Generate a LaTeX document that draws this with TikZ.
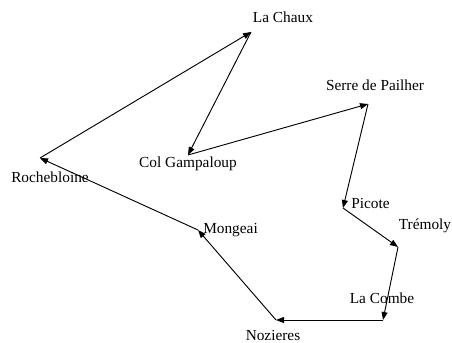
\documentclass[tikz,border=0pt]{standalone}
\usepackage{fontspec}
\setmainfont{Liberation Serif}
\usetikzlibrary{positioning,arrows.meta}

\begin{document}
\begin{tikzpicture}[x=0.75pt,y=-0.75pt,town/.style={inner sep=0pt,font=\fontsize{11.5}{13}\selectfont},leg/.style={line width=0.7pt,-{Triangle[length=6pt,width=4.5pt]}}]
		\useasboundingbox (0,0) rectangle (452,342);

		\coordinate											(rochebloine)	at (40,158);
		\coordinate											(lachaux)		at (251,32);
		\coordinate											(colgampaloup)	at (188,155);
		\coordinate											(serre)			at (368,104);
		\coordinate											(picote)		at (343,208);
		\coordinate											(tremoly)		at (398,247);
		\coordinate											(lacombe)		at (383,320);
		\coordinate											(nozieres)		at (276,320);
		\coordinate											(mongeai)		at (198,230);

		\node[town]											(rochebloinel)	at (50,177)		{Rochebloine};
		\node[town]											(lachauxl)		at (283,17)		{La Chaux};
		\node[town]											(colgampaloupl)	at (188,164)	{Col Gampaloup};
		\node[town]											(serrel)		at (375,85)		{Serre de Pailher};
		\node[town,anchor=west]								(picotel)		at (351,203)	{Picote};
		\node[town]											(tremolyl)		at (425,226)	{Tr\'emoly};
		\node[town]											(lacombel)		at (382,298)	{La Combe};
		\node[town]											(nozieresl)		at (273,335)	{Nozieres};
		\node[town,anchor=west]								(mongeail)		at (203,230)	{Mongeai};

		\draw[leg] (rochebloine) -- (lachaux);
		\draw[leg] (lachaux) -- (colgampaloup);
		\draw[leg] (colgampaloup) -- (serre);
		\draw[leg] (serre) -- (picote);
		\draw[leg] (picote) -- (tremoly);
		\draw[leg] (tremoly) -- (lacombe);
		\draw[leg] (lacombe) -- (nozieres);
		\draw[leg] (nozieres) -- (mongeai);
		\draw[leg] (mongeai) -- (rochebloine);
	\end{tikzpicture}
\end{document}
